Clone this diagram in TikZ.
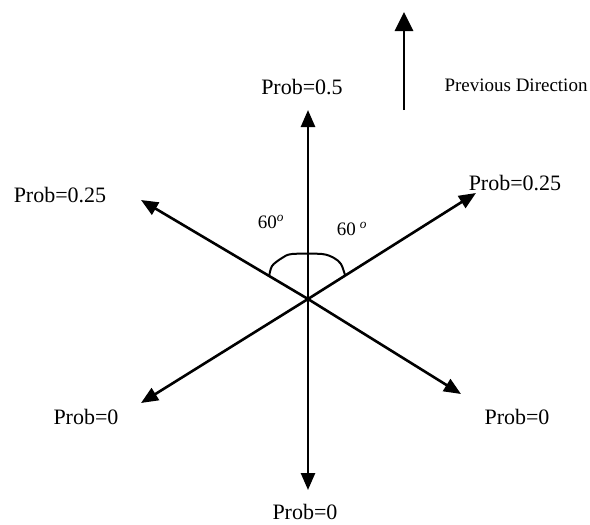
\documentclass[tikz,border=0pt]{standalone}
\usepackage{fontspec}
\setmainfont{Liberation Serif}
\usetikzlibrary{arrows.meta}

\begin{document}
\begin{tikzpicture}[x=1pt, y=-1pt,
    vec/.style={-{Triangle[length=17pt, width=14pt]}, line width=2.6pt},
    prevarrow/.style={-{Triangle[length=19pt, width=18pt]}, line width=2.8pt},
    prob/.style={font=\fontsize{22}{26}\selectfont, inner sep=0pt},
    angletext/.style={font=\fontsize{19}{22}\selectfont, inner sep=0pt}
]
    \useasboundingbox (0,0) rectangle (590,525);

    % centre and arrow ends
    \coordinate (c) at (308,299);
    \coordinate (up) at (308,110);
    \coordinate (down) at (308,490);
    \coordinate (ul) at (141,200);
    \coordinate (ur) at (476,193);
    \coordinate (ll) at (141,403);
    \coordinate (lr) at (461,394);

    % the six directions
    \draw[vec] (c) -- (up);
    \draw[vec] (c) -- (down);
    \draw[vec] (c) -- (ul);
    \draw[vec] (c) -- (ur);
    \draw[vec] (c) -- (ll);
    \draw[vec] (c) -- (lr);

    % angle mark
    \draw[line width=2pt] plot[smooth, tension=0.5] coordinates
        {(269,277) (272,266) (282,258) (292,254) (322,254) (334,258) (341,264) (345,275)};
    \node[angletext] (aleft) at (271,222) {60\textsuperscript{\textit{o}}};
    \node[angletext] (aright) at (352,229) {60\hspace{4pt}\textsuperscript{\textit{o}}};

    % probabilities
    \node[prob] (pup) at (302,87) {Prob=0.5};
    \node[prob] (pul) at (60,195) {Prob=0.25};
    \node[prob] (pur) at (515,183) {Prob=0.25};
    \node[prob] (pll) at (86,417) {Prob=0};
    \node[prob] (plr) at (517,417) {Prob=0};
    \node[prob] (pdown) at (305,512) {Prob=0};

    % previous direction
    \coordinate (prevbot) at (404,110);
    \coordinate (prevtop) at (404,12);
    \draw[prevarrow] (prevbot) -- (prevtop);
    \node[font=\fontsize{19}{22}\selectfont, inner sep=0pt] (prevtxt) at (516,85) {Previous Direction};
\end{tikzpicture}
\end{document}
